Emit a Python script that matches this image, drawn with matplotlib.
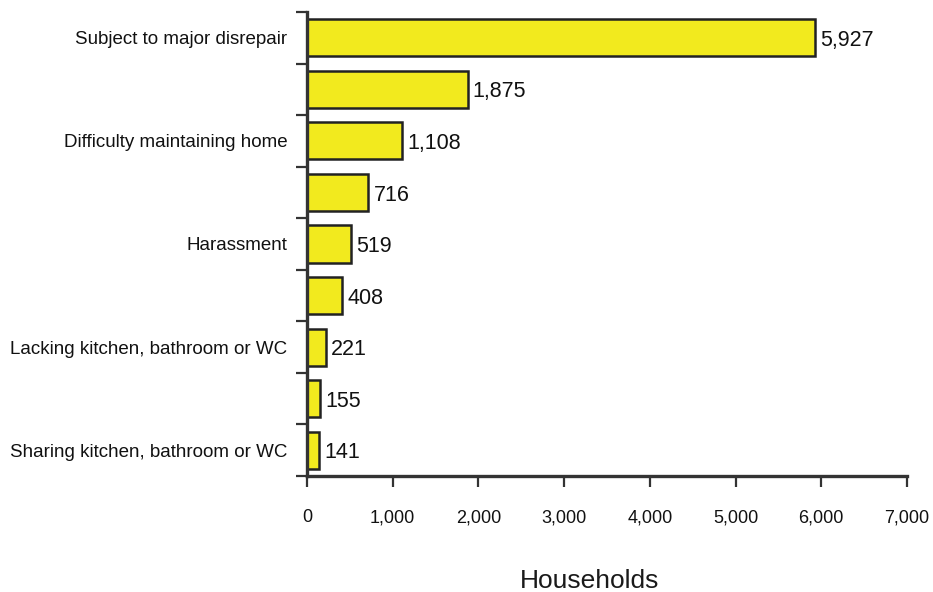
import matplotlib
matplotlib.use("Agg")
import matplotlib.pyplot as plt
from matplotlib.ticker import FuncFormatter

categories = ["Subject to major disrepair", "", "Difficulty maintaining home", "",
              "Harassment", "", "Lacking kitchen, bathroom or WC", "",
              "Sharing kitchen, bathroom or WC"]
values = [5927, 1875, 1108, 716, 519, 408, 221, 155, 141]
xticks = [0, 1000, 2000, 3000, 4000, 5000, 6000, 7000]

fam = ['Liberation Sans', 'DejaVu Sans']
plt.rcParams['font.family'] = fam

fig = plt.figure(figsize=(9.33, 5.92), dpi=100)
ax = fig.add_axes([307/933, 1-476/592, 600/933, 464/592])

n = len(values)
ypos = list(range(n))
ax.barh(ypos, values, height=0.72, color='#f2ea1e', edgecolor='#222222', linewidth=1.8)
ax.set_ylim(n - 0.5, -0.5)
ax.set_xlim(0, 7000)

for y, v in zip(ypos, values):
    ax.text(v + 60, y + 0.05, f"{v:,}", va='center', ha='left', fontsize=15.5, color='#111111')

ax.set_yticks(ypos)
ax.set_yticklabels(categories, fontsize=13.5, color='#111111')
ax.tick_params(axis='y', length=0, pad=14)
# boundary ticks on y axis
ax.set_yticks([i - 0.5 for i in range(n + 1)], minor=True)
ax.tick_params(axis='y', which='minor', length=8, width=1.6, color='#333333')

ax.set_xticks(xticks)
ax.xaxis.set_major_formatter(FuncFormatter(lambda x, p: f"{int(x):,}"))
ax.tick_params(axis='x', length=8, width=1.6, color='#333333', labelsize=13, pad=16, labelcolor='#111111')

for s in ['top', 'right']:
    ax.spines[s].set_visible(False)
for s in ['left', 'bottom']:
    ax.spines[s].set_linewidth(2.4)
    ax.spines[s].set_color('#333333')

ax.set_xlabel("Households", fontsize=19, color='#1a1a1a')
ax.xaxis.set_label_coords((590-307)/600, -0.2)

fig.savefig("out.png", dpi=100)
